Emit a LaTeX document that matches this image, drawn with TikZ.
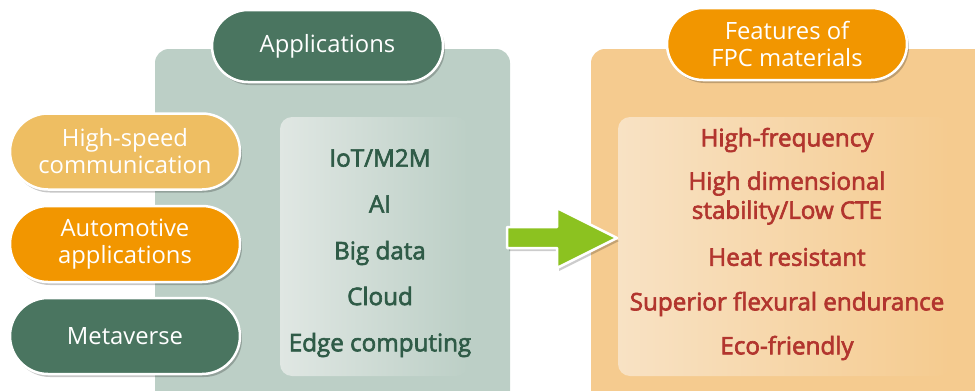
\documentclass[tikz,border=0pt]{standalone}
\usepackage{fontspec}
\setmainfont{Open Sans}
\newfontfamily\semibold{Open Sans}[FakeBold=2.6]
\usetikzlibrary{shapes.misc,shadows}

\definecolor{appgreen}{HTML}{4A7560}
\definecolor{panelgreen}{HTML}{BCCFC6}
\definecolor{innergreen}{HTML}{E0E7E3}
\definecolor{listgreen}{HTML}{2F5B47}
\definecolor{pillyellow}{HTML}{EEBE62}
\definecolor{pillorange}{HTML}{F29600}
\definecolor{panelorange}{HTML}{F5CB8F}
\definecolor{innerorange}{HTML}{F8E2C4}
\definecolor{featred}{HTML}{B2352E}
\definecolor{arrowgreen}{HTML}{8CC220}

\tikzset{
  pill/.style={rounded rectangle, draw=white, line width=2.5pt, text=white,
    align=center, inner sep=0pt, font=\fontsize{23.8}{27}\selectfont,
    drop shadow={shadow xshift=2pt, shadow yshift=-3pt, opacity=0.22, fill=black}},
  sidepill/.style={pill, minimum width=230pt, minimum height=76pt},
  listitem/.style={text=listgreen, font=\semibold\fontsize{24.2}{29}\selectfont, align=center, inner sep=0pt},
  featitem/.style={text=featred, font=\semibold\fontsize{24.2}{29}\selectfont, align=center, inner sep=0pt}
}

\begin{document}
\begin{tikzpicture}[x=1pt,y=-1pt]
\useasboundingbox (0,0) rectangle (975,391);
\clip (0,0) rectangle (975,391);

% background panels
\fill[panelgreen, rounded corners=14pt] (155,49) rectangle (510,405);
\shade[left color=innergreen, right color=panelgreen, rounded corners=12pt] (280,117) rectangle (468,376);
\fill[panelorange, rounded corners=14pt] (591,49) rectangle (1000,405);
\shade[left color=innerorange, right color=panelorange, rounded corners=12pt] (618,117) rectangle (950,376);

% title pills
\node[pill, fill=appgreen, minimum width=231pt, minimum height=72pt] (apps) at (327.5,46) {Applications};
\node[pill, fill=pillorange, minimum width=240pt, minimum height=72pt] (feat) at (787,44) {Features of\\FPC materials};

% application fields
\node[sidepill, fill=pillyellow] (hs) at (125,151.5) {High-speed\\communication};
\node[sidepill, fill=pillorange] (auto) at (125,244) {Automotive\\applications};
\node[sidepill, fill=appgreen] (meta) at (125,336) {Metaverse};

% technologies
\node[listitem] (iot) at (380,158) {IoT/M2M};
\node[listitem] (ai) at (380,204) {AI};
\node[listitem] (big) at (380,253) {Big data};
\node[listitem] (cloud) at (380,296) {Cloud};
\node[listitem] (edge) at (380,345) {Edge computing};

% material features
\node[featitem] (hf) at (787,140) {High-frequency};
\node[featitem] (dim) at (787,198) {High dimensional\\stability/Low CTE};
\node[featitem] (heat) at (787,257) {Heat resistant};
\node[featitem] (flex) at (787,304) {Superior flexural endurance};
\node[featitem] (eco) at (787,348) {Eco-friendly};

% block arrow from applications to features
\fill[black, opacity=0.2, shift={(2pt,-3pt)}]
  (507,227) -- (557,227) -- (557,208) -- (617,238) -- (557,268) -- (557,248) -- (507,248) -- cycle;
\filldraw[fill=arrowgreen, draw=white, line width=2.5pt, line join=round]
  (507,227) -- (557,227) -- (557,208) -- (617,238) -- (557,268) -- (557,248) -- (507,248) -- cycle;
\end{tikzpicture}
\end{document}
